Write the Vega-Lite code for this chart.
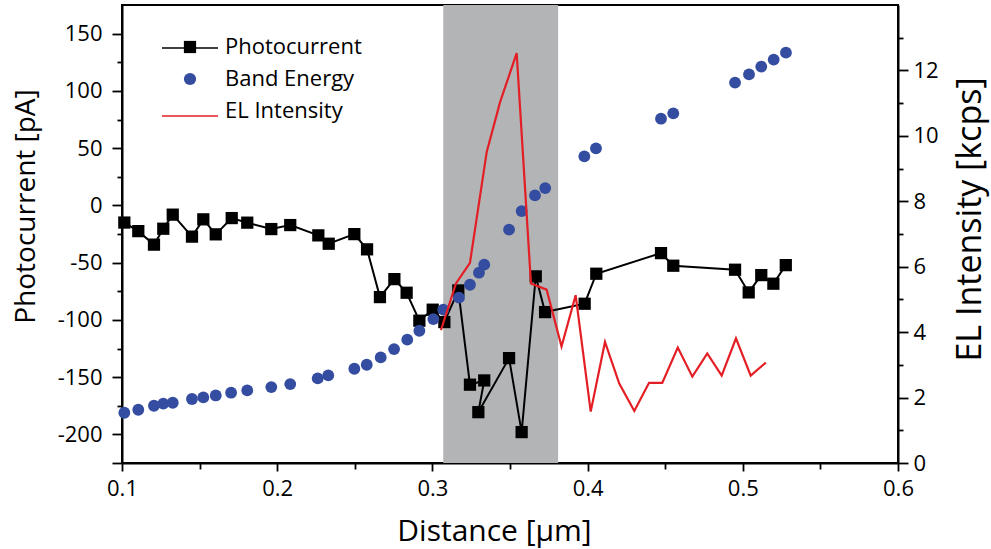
{
  "$schema": "https://vega.github.io/schema/vega-lite/v6.json",
  "width": 776,
  "height": 458,
  "autosize": {"type": "none"},
  "padding": {"left": 122, "top": 5, "right": 93, "bottom": 86},
  "background": "white",
  "datasets": {
    "region": [{"from": 0.307, "to": 0.381}],
    "photocurrent": [
      {"d": 0.1015, "pA": -15.0, "i": 1},
      {"d": 0.1105, "pA": -22.5, "i": 2},
      {"d": 0.1206, "pA": -34.3, "i": 3},
      {"d": 0.1266, "pA": -20.4, "i": 4},
      {"d": 0.1327, "pA": -8.1, "i": 5},
      {"d": 0.1451, "pA": -27.3, "i": 6},
      {"d": 0.1524, "pA": -12.2, "i": 7},
      {"d": 0.1604, "pA": -25.3, "i": 8},
      {"d": 0.1707, "pA": -11.1, "i": 9},
      {"d": 0.1807, "pA": -15.1, "i": 10},
      {"d": 0.1962, "pA": -20.7, "i": 11},
      {"d": 0.2084, "pA": -17.2, "i": 12},
      {"d": 0.2265, "pA": -26.2, "i": 13},
      {"d": 0.2332, "pA": -33.5, "i": 14},
      {"d": 0.2497, "pA": -25.1, "i": 15},
      {"d": 0.2579, "pA": -38.4, "i": 16},
      {"d": 0.2662, "pA": -80.1, "i": 17},
      {"d": 0.2755, "pA": -64.4, "i": 18},
      {"d": 0.2834, "pA": -76.3, "i": 19},
      {"d": 0.2916, "pA": -100.7, "i": 20},
      {"d": 0.3002, "pA": -91.1, "i": 21},
      {"d": 0.3077, "pA": -101.9, "i": 22},
      {"d": 0.3167, "pA": -74.3, "i": 23},
      {"d": 0.3242, "pA": -156.6, "i": 24},
      {"d": 0.3334, "pA": -152.9, "i": 25},
      {"d": 0.3296, "pA": -180.6, "i": 26},
      {"d": 0.3494, "pA": -133.4, "i": 27},
      {"d": 0.3575, "pA": -198.0, "i": 28},
      {"d": 0.3666, "pA": -62.0, "i": 29},
      {"d": 0.3726, "pA": -93.2, "i": 30},
      {"d": 0.3981, "pA": -85.9, "i": 31},
      {"d": 0.4056, "pA": -59.7, "i": 32},
      {"d": 0.4473, "pA": -41.7, "i": 33},
      {"d": 0.4552, "pA": -52.7, "i": 34},
      {"d": 0.4950, "pA": -56.2, "i": 35},
      {"d": 0.5038, "pA": -76.0, "i": 36},
      {"d": 0.5119, "pA": -60.9, "i": 37},
      {"d": 0.5197, "pA": -68.4, "i": 38},
      {"d": 0.5277, "pA": -52.2, "i": 39}
    ],
    "band": [
      {"d": 0.1015, "pA": -181.1},
      {"d": 0.1105, "pA": -178.5},
      {"d": 0.1206, "pA": -175.0},
      {"d": 0.1266, "pA": -173.2},
      {"d": 0.1327, "pA": -172.4},
      {"d": 0.1451, "pA": -169.1},
      {"d": 0.1524, "pA": -167.7},
      {"d": 0.1604, "pA": -166.0},
      {"d": 0.1703, "pA": -163.6},
      {"d": 0.1807, "pA": -161.6},
      {"d": 0.1962, "pA": -158.7},
      {"d": 0.2084, "pA": -156.1},
      {"d": 0.2261, "pA": -151.1},
      {"d": 0.2329, "pA": -148.5},
      {"d": 0.2497, "pA": -142.7},
      {"d": 0.2577, "pA": -139.2},
      {"d": 0.2667, "pA": -132.8},
      {"d": 0.2753, "pA": -125.5},
      {"d": 0.2838, "pA": -117.3},
      {"d": 0.2916, "pA": -109.5},
      {"d": 0.3006, "pA": -99.3},
      {"d": 0.3070, "pA": -91.1},
      {"d": 0.3171, "pA": -80.6},
      {"d": 0.3242, "pA": -69.3},
      {"d": 0.3300, "pA": -58.8},
      {"d": 0.3334, "pA": -51.8},
      {"d": 0.3494, "pA": -21.2},
      {"d": 0.3575, "pA": -5.0},
      {"d": 0.3661, "pA": 8.7},
      {"d": 0.3727, "pA": 15.1},
      {"d": 0.3979, "pA": 42.8},
      {"d": 0.4054, "pA": 49.8},
      {"d": 0.4473, "pA": 75.7},
      {"d": 0.4552, "pA": 80.4},
      {"d": 0.4950, "pA": 107.2},
      {"d": 0.5040, "pA": 114.4},
      {"d": 0.5119, "pA": 121.2},
      {"d": 0.5199, "pA": 127.3},
      {"d": 0.5278, "pA": 133.4}
    ],
    "el": [
      {"d": 0.3055, "kcps": 4.06},
      {"d": 0.3152, "kcps": 5.49},
      {"d": 0.3242, "kcps": 6.12},
      {"d": 0.3350, "kcps": 9.51},
      {"d": 0.3436, "kcps": 11.03},
      {"d": 0.3543, "kcps": 12.53},
      {"d": 0.3635, "kcps": 5.49},
      {"d": 0.3736, "kcps": 5.30},
      {"d": 0.3832, "kcps": 3.56},
      {"d": 0.3923, "kcps": 5.13},
      {"d": 0.4020, "kcps": 1.57},
      {"d": 0.4112, "kcps": 3.70},
      {"d": 0.4204, "kcps": 2.43},
      {"d": 0.4301, "kcps": 1.59},
      {"d": 0.4396, "kcps": 2.45},
      {"d": 0.4481, "kcps": 2.45},
      {"d": 0.4581, "kcps": 3.53},
      {"d": 0.4675, "kcps": 2.64},
      {"d": 0.4771, "kcps": 3.35},
      {"d": 0.4864, "kcps": 2.67},
      {"d": 0.4956, "kcps": 3.81},
      {"d": 0.5051, "kcps": 2.67},
      {"d": 0.5148, "kcps": 3.07}
    ]
  },
  "layer": [
    {
      "data": {"name": "region"},
      "mark": {"type": "rect", "color": "#b3b4b6"},
      "encoding": {
        "x": {
          "field": "from",
          "type": "quantitative",
          "scale": {"domain": [0.1, 0.6], "nice": false},
          "axis": {
            "title": "Distance [µm]",
            "values": [0.1, 0.15, 0.2, 0.25, 0.3, 0.35, 0.4, 0.45, 0.5, 0.55, 0.6],
            "labelExpr": "abs(datum.value*10 - round(datum.value*10)) < 0.001 ? format(datum.value, '.1f') : ''",
            "tickSize": {"expr": "(abs(datum.value*10 - round(datum.value*10)) < 0.001 ? 8 : 6)"},
            "labelPadding": 7,
            "titleX": 372,
            "titleY": 77,
            "titleBaseline": "alphabetic",
            "titleFontSize": 30
          }
        },
        "x2": {"field": "to"}
      }
    },
    {
      "data": {"name": "photocurrent"},
      "mark": {"type": "line", "strokeWidth": 2},
      "encoding": {
        "x": {"field": "d", "type": "quantitative", "scale": {"domain": [0.1, 0.6], "nice": false}},
        "y": {
          "field": "pA",
          "type": "quantitative",
          "scale": {"domain": [-225, 175], "nice": false, "zero": false},
          "axis": {
            "orient": "left",
            "title": "Photocurrent [pA]",
            "values": [-225, -200, -175, -150, -125, -100, -75, -50, -25, 0, 25, 50, 75, 100, 125, 150],
            "labelExpr": "abs(datum.value) % 50 == 0 ? '' + datum.value : ''",
            "tickSize": {"expr": "((abs(datum.value) % 50 == 0 || datum.value == -225) ? 10 : 5)"},
            "labelPadding": 10,
            "titleX": -88,
            "titleY": 201,
            "titleAngle": -90,
            "titleAlign": "center",
            "titleBaseline": "alphabetic",
            "titleFontSize": 28
          }
        },
        "order": {"field": "i", "type": "quantitative"},
        "stroke": {
          "datum": "Photocurrent",
          "type": "nominal",
          "scale": {
            "domain": ["Photocurrent", "-", "EL Intensity"],
            "range": ["black", "transparent", "#e31e24"]
          },
          "legend": {
            "orient": "none",
            "legendX": 57,
            "legendY": 32,
            "title": null,
            "padding": 0,
            "symbolType": "M-2.8,0H2.8",
            "symbolSize": 400,
            "symbolStrokeWidth": 1.6,
            "labelExpr": "''",
            "labelFontSize": 22,
            "rowPadding": 12
          }
        }
      }
    },
    {
      "data": {"name": "photocurrent"},
      "mark": {"type": "point", "filled": true, "size": 150, "opacity": 1, "strokeWidth": 0},
      "encoding": {
        "x": {"field": "d", "type": "quantitative", "scale": {"domain": [0.1, 0.6], "nice": false}},
        "y": {"field": "pA", "type": "quantitative", "scale": {"domain": [-225, 175], "nice": false, "zero": false}, "axis": null},
        "fill": {
          "datum": "Photocurrent",
          "type": "nominal",
          "scale": {
            "domain": ["Photocurrent", "Band Energy", "EL Intensity"],
            "range": ["black", "#344da0", "transparent"]
          },
          "legend": {
            "orient": "none",
            "legendX": 57,
            "legendY": 31,
            "title": null,
            "padding": 0,
            "symbolSize": 150,
            "symbolStrokeWidth": 0,
            "labelOffset": 24,
            "rowPadding": 10,
            "labelFont": "Open Sans",
            "labelFontSize": 22,
            "labelColor": "black"
          }
        },
        "shape": {
          "datum": "Photocurrent",
          "type": "nominal",
          "scale": {
            "domain": ["Photocurrent", "Band Energy", "EL Intensity"],
            "range": ["square", "circle", "circle"]
          }
        }
      }
    },
    {
      "data": {"name": "band"},
      "mark": {"type": "point", "filled": true, "size": 140, "opacity": 1, "strokeWidth": 0},
      "encoding": {
        "x": {"field": "d", "type": "quantitative", "scale": {"domain": [0.1, 0.6], "nice": false}},
        "y": {"field": "pA", "type": "quantitative", "scale": {"domain": [-225, 175], "nice": false, "zero": false}, "axis": null},
        "fill": {"datum": "Band Energy", "type": "nominal"},
        "shape": {"datum": "Band Energy", "type": "nominal"}
      }
    },
    {
      "data": {"name": "el"},
      "mark": {"type": "line", "strokeWidth": 2.2},
      "encoding": {
        "x": {"field": "d", "type": "quantitative", "scale": {"domain": [0.1, 0.6], "nice": false}},
        "y": {
          "field": "kcps",
          "type": "quantitative",
          "scale": {"domain": [0, 14], "nice": false},
          "axis": {
            "orient": "right",
            "title": "EL Intensity [kcps]",
            "values": [0, 1, 2, 3, 4, 5, 6, 7, 8, 9, 10, 11, 12, 13],
            "labelExpr": "datum.value % 2 === 0 ? '' + datum.value : ''",
            "tickSize": {"expr": "(datum.value % 2 === 0 ? 10 : 5)"},
            "labelPadding": 5,
            "titleX": 82,
            "titleY": 214,
            "titleAngle": -90,
            "titleAlign": "center",
            "titleBaseline": "alphabetic",
            "titleFontSize": 34
          }
        },
        "stroke": {"datum": "EL Intensity", "type": "nominal"}
      }
    }
  ],
  "resolve": {"scale": {"y": "independent"}},
  "config": {
    "view": {"stroke": "black", "strokeWidth": 2},
    "font": "Open Sans",
    "axis": {
      "domainColor": "black",
      "domainWidth": 2,
      "tickColor": "black",
      "tickWidth": 1.8,
      "labelFont": "Open Sans",
      "labelFontSize": 22,
      "labelColor": "black",
      "titleFont": "Open Sans",
      "titleFontWeight": "normal",
      "titleColor": "black",
      "grid": false,
      "labelOverlap": false,
      "labelBound": false,
      "labelFlush": false
    }
  }
}
